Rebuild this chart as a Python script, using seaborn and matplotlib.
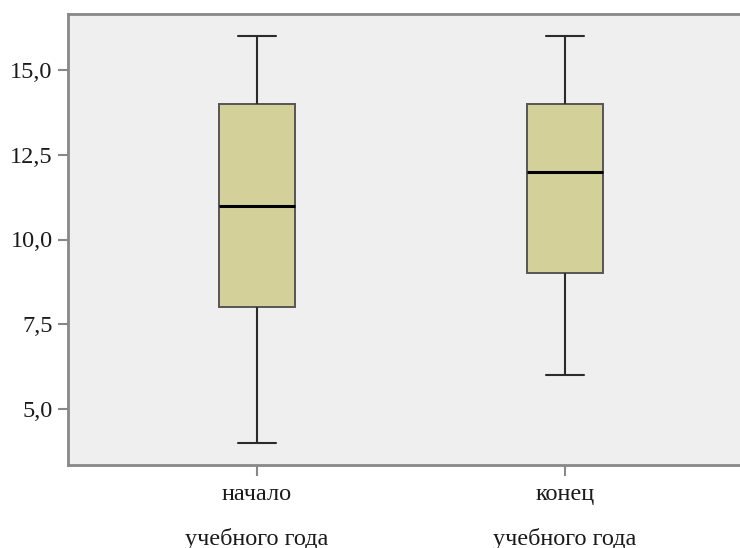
import matplotlib
matplotlib.use("Agg")
import matplotlib.pyplot as plt
import matplotlib.ticker as mticker
import seaborn as sns
import pandas as pd

# Five-number summaries (min, Q1, median, Q3, max) for each period
groups = ["начало\nучебного года", "конец\nучебного года"]
start_values = [4, 8, 11, 14, 16]
end_values = [6, 9, 12, 14, 16]
y_ticks = [5.0, 7.5, 10.0, 12.5, 15.0]

df = pd.DataFrame({
    "group": [groups[0]] * len(start_values) + [groups[1]] * len(end_values),
    "value": start_values + end_values,
})

sns.set_style("white")
plt.rcParams["font.family"] = ["Liberation Serif", "DejaVu Serif"]

fig = plt.figure(figsize=(7.4, 5.48), dpi=100)
ax = fig.add_axes([68 / 740, 83 / 548, 672 / 740, 451 / 548])
ax.set_facecolor("#efefef")

line_col = "#2b2b2b"
sns.boxplot(
    data=df, x="group", y="value", order=groups, ax=ax,
    color="#d4d09a", width=0.247, whis=1.5, fliersize=0,
    boxprops=dict(facecolor="#d4d09a", edgecolor="#555555", linewidth=1.4),
    whiskerprops=dict(color=line_col, linewidth=1.5),
    capprops=dict(color=line_col, linewidth=1.5),
    medianprops=dict(color="#000000", linewidth=2.2),
    saturation=1,
)

ax.set_xlim(-0.614, 1.568)
ax.set_ylim(3.35, 16.65)
ax.set_yticks(y_ticks)
ax.yaxis.set_major_formatter(mticker.FuncFormatter(lambda v, p: f"{v:.1f}".replace(".", ",")))
ax.set_xlabel("")
ax.set_ylabel("")

for side in ["left", "bottom", "top"]:
    ax.spines[side].set_visible(True)
    ax.spines[side].set_color("#888888")
    ax.spines[side].set_linewidth(2)
ax.spines["right"].set_visible(False)

ax.tick_params(axis="y", direction="out", length=7, width=1.5, color="#888888",
               labelsize=17.5, labelcolor="#1a1a1a", pad=4, left=True)
ax.tick_params(axis="x", direction="out", length=8, width=1.5, color="#888888",
               labelsize=17.5, labelcolor="#1a1a1a", pad=6, bottom=True)
for lbl in ax.get_xticklabels():
    lbl.set_linespacing(2.3)
    lbl.set_horizontalalignment("center")

fig.savefig("out.png", dpi=100, facecolor="white")
